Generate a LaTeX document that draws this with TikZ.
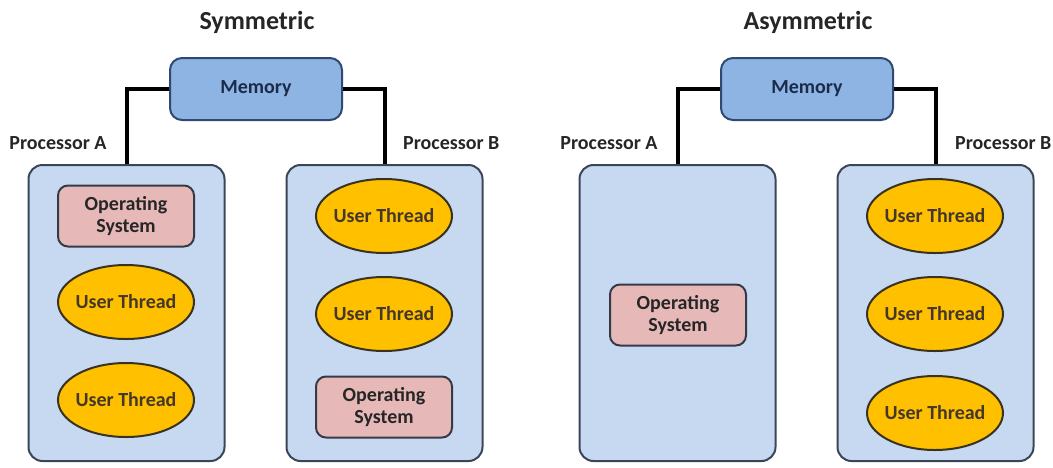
\documentclass[tikz,border=0pt]{standalone}
\usepackage{fontspec}
\setmainfont{Carlito}
\usetikzlibrary{shapes.geometric}
\definecolor{memfill}{HTML}{8EB4E3}
\definecolor{memline}{HTML}{2E4A70}
\definecolor{memtext}{HTML}{1C2B4A}
\definecolor{procfill}{HTML}{C6D9F1}
\definecolor{procline}{HTML}{3A4658}
\definecolor{osfill}{HTML}{E6B9B8}
\definecolor{osline}{HTML}{363A48}
\definecolor{utfill}{HTML}{FFC000}
\definecolor{utline}{HTML}{3A3220}
\definecolor{inktext}{HTML}{262626}
\tikzset{
  heading/.style={font=\bfseries\fontsize{26}{28}\selectfont, text=inktext},
  lbl/.style={font=\bfseries\fontsize{20}{22}\selectfont, text=inktext, inner sep=0pt},
  memory/.style={draw=memline, fill=memfill, line width=2pt, rounded corners=12pt,
    minimum width=172pt, minimum height=62pt, text=memtext,
    font=\bfseries\fontsize{20}{22}\selectfont},
  proc/.style={draw=procline, fill=procfill, line width=2pt, rounded corners=14pt,
    minimum width=196pt, minimum height=296pt},
  os/.style={draw=osline, fill=osfill, line width=2pt, rounded corners=10pt,
    minimum width=136pt, minimum height=61pt, align=center, text=inktext,
    font=\bfseries\fontsize{20}{22}\selectfont},
  uthread/.style={ellipse, draw=utline, fill=utfill, line width=2pt, inner xsep=-5pt,
    minimum width=136pt, minimum height=74pt, text=inktext!80!brown,
    font=\bfseries\fontsize{20}{22}\selectfont},
  link/.style={line width=4pt, black}
}
\begin{document}
\begin{tikzpicture}[x=1pt,y=-1pt]
\useasboundingbox (0,0) rectangle (1053,467);

% the two layouts share memory, processors and wiring
\foreach \dx/\ttl/\p/\lbx in {0/Symmetric/s/403,551/Asymmetric/a/955}
{
  \node[heading] (t\p) at (257+\dx,22) {\ttl};
  \node[memory] (m\p) at (256+\dx,89) {Memory};
  \node[proc] (pa\p) at (126.5+\dx,313) {};
  \node[proc] (pb\p) at (384.5+\dx,313) {};
  \node[lbl] (la\p) at (58+\dx,143) {Processor A};
  \node[lbl,anchor=west] (lb\p) at (\lbx,143) {Processor B};
  \draw[link] (m\p.west) -| (pa\p.north);
  \draw[link] (m\p.east) -| (pb\p.north);
}

% operating system
\node[os] (os1) at (126,216) {Operating\\System};
\node[os] (os2) at (384,407) {Operating\\System};
\node[os] (os3) at (678,315) {Operating\\System};

% user threads
\foreach \x/\y [count=\k] in {126/302,126/400,384/216,384/314,935/216,935/314,935/413}
  \node[uthread] (ut\k) at (\x,\y) {User Thread};

\end{tikzpicture}
\end{document}
